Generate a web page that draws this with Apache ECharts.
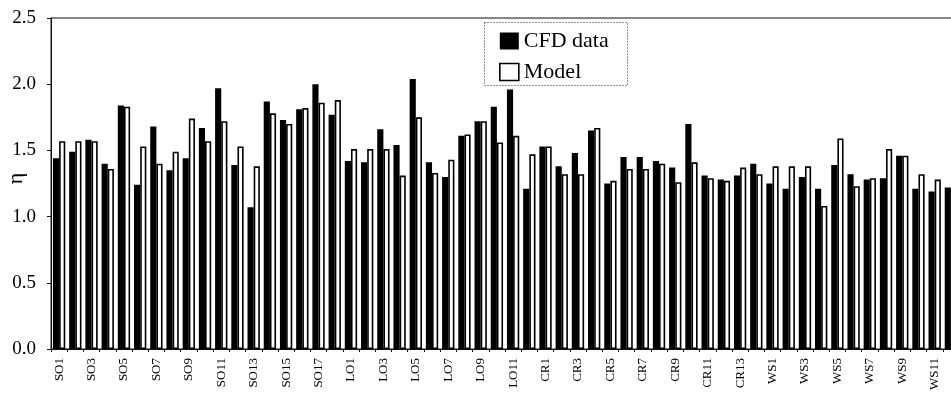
<!DOCTYPE html>
<html>
<head>
<meta charset="utf-8">
<script src="https://cdn.jsdelivr.net/npm/echarts@6/dist/echarts.min.js"></script>
<style>
  html, body { margin: 0; padding: 0; background: #fff; }
  #chart { width: 951px; height: 397px; }
</style>
</head>
<body>
<div id="chart"></div>
<script>
// Case names: four building groups
const categories = [
  'SO1','SO2','SO3','SO4','SO5','SO6','SO7','SO8','SO9','SO10','SO11','SO12','SO13','SO14','SO15','SO16','SO17','SO18',
  'LO1','LO2','LO3','LO4','LO5','LO6','LO7','LO8','LO9','LO10','LO11','LO12',
  'CR1','CR2','CR3','CR4','CR5','CR6','CR7','CR8','CR9','CR10','CR11','CR12','CR13','CR14',
  'WS1','WS2','WS3','WS4','WS5','WS6','WS7','WS8','WS9','WS10','WS11','WS12'
];

// Efficiency η from the CFD runs
const cfdValues = [
  1.44,1.49,1.58,1.40,1.84,1.24,1.68,1.35,1.44,1.67,1.97,1.39,1.07,1.87,1.73,1.81,2.00,1.77,
  1.42,1.41,1.66,1.54,2.04,1.41,1.30,1.61,1.72,1.83,1.96,1.21,
  1.53,1.38,1.48,1.65,1.25,1.45,1.45,1.42,1.37,1.70,1.31,1.28,1.31,1.40,
  1.25,1.21,1.30,1.21,1.39,1.32,1.28,1.29,1.46,1.21,1.19,1.22
];

// Efficiency η predicted by the model
const modelValues = [
  1.57,1.57,1.57,1.36,1.83,1.53,1.40,1.49,1.74,1.57,1.72,1.53,1.38,1.78,1.70,1.82,1.86,1.88,
  1.51,1.51,1.51,1.31,1.75,1.33,1.43,1.62,1.72,1.56,1.61,1.47,
  1.53,1.32,1.32,1.67,1.27,1.36,1.36,1.40,1.26,1.41,1.29,1.27,1.37,1.32,
  1.38,1.38,1.38,1.08,1.59,1.23,1.29,1.51,1.46,1.32,1.28,null
];

const yTicks = [0.0, 0.5, 1.0, 1.5, 2.0, 2.5];

const serif = '"Liberation Serif", "Times New Roman", serif';
const chart = echarts.init(document.getElementById('chart'), null, { renderer: 'canvas' });

chart.setOption({
  backgroundColor: '#fff',
  animation: false,
  textStyle: { fontFamily: serif, color: '#000' },
  grid: {
    left: 51, right: -8, top: 18, bottom: 48,
    containLabel: false, outerBoundsMode: 'none',
    show: true, borderColor: '#111', borderWidth: 1, backgroundColor: 'transparent'
  },
  graphic: [{
    type: 'rect', z: 1,
    shape: { x: 484.5, y: 22.5, width: 143, height: 63 },
    style: { fill: '#fff', stroke: '#222', lineWidth: 1, lineDash: [1, 2] }
  }],
  legend: {
    z: 10,
    orient: 'vertical',
    left: 494, top: 25,
    itemWidth: 19, itemHeight: 17, itemGap: 9,
    textStyle: { fontFamily: serif, fontSize: 22, color: '#000' },
    data: [
      { name: 'CFD data', icon: 'rect' },
      { name: 'Model', icon: 'rect', itemStyle: { color: '#fff', borderColor: '#000', borderWidth: 1.6 } }
    ]
  },
  xAxis: {
    type: 'category',
    data: categories,
    boundaryGap: true,
    axisLine: { show: true, lineStyle: { color: '#111', width: 1 } },
    axisTick: { show: true, interval: 0, length: 3, lineStyle: { color: '#111' } },
    axisLabel: {
      interval: 1, rotate: 90, margin: 9,
      fontFamily: serif, fontSize: 13, color: '#000'
    }
  },
  yAxis: {
    type: 'value',
    min: yTicks[0], max: yTicks[yTicks.length - 1], interval: 0.5,
    name: 'η', nameLocation: 'middle', nameRotate: 90, nameGap: 24,
    nameMoveOverlap: false,
    nameTextStyle: { fontFamily: serif, fontSize: 22, color: '#000', padding: [0, 0, 0, 10] },
    axisLine: { show: true, lineStyle: { color: '#111', width: 1 } },
    axisTick: { show: true, length: 4, lineStyle: { color: '#111' } },
    splitLine: { show: false },
    axisLabel: {
      margin: 15, fontFamily: serif, fontSize: 19, color: '#000',
      formatter: v => v.toFixed(1)
    }
  },
  series: [
    {
      name: 'CFD data', type: 'bar', data: cfdValues,
      barGap: '0%', barCategoryGap: '24%',
      itemStyle: { color: '#000' }
    },
    {
      name: 'Model', type: 'bar', data: modelValues,
      barGap: '0%', barCategoryGap: '24%',
      itemStyle: { color: '#fff', borderColor: '#000', borderWidth: 1.6 }
    }
  ]
});
</script>
</body>
</html>
